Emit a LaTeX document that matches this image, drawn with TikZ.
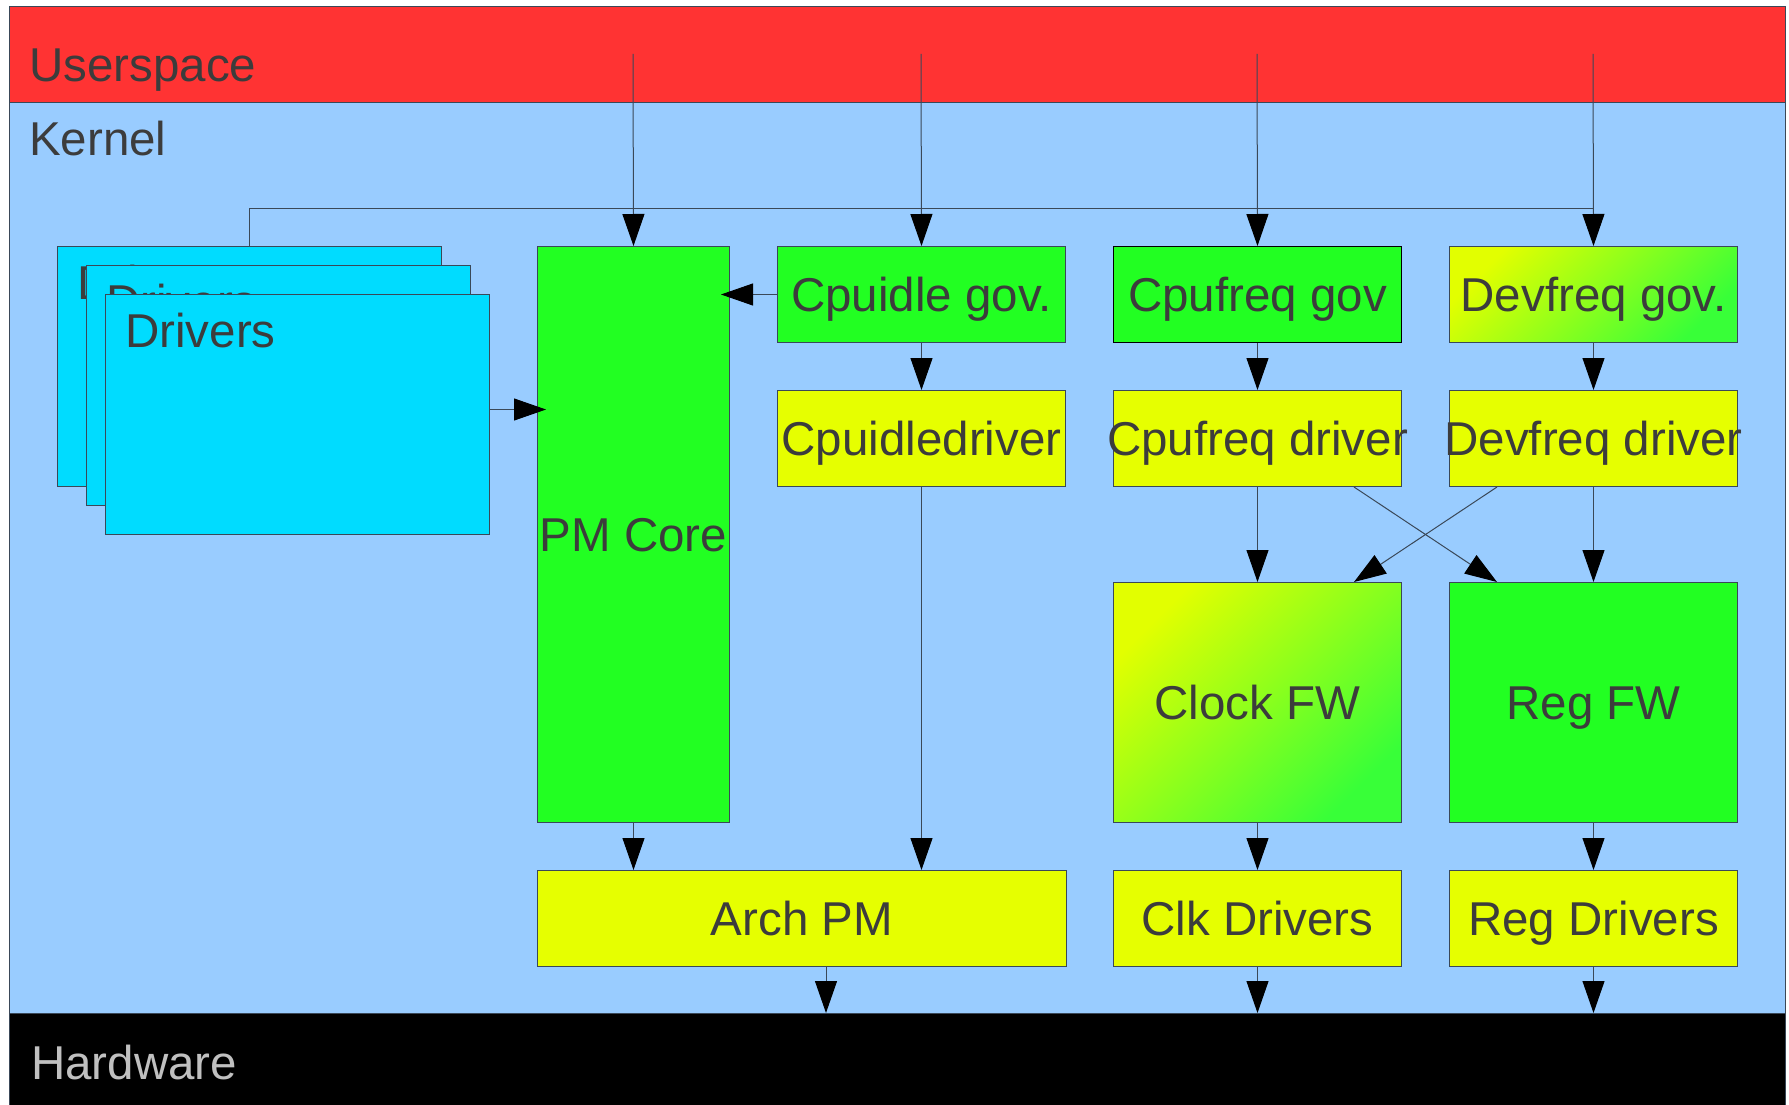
\documentclass[tikz,border=0pt]{standalone}
\usepackage{fontspec}
\setmainfont{Liberation Sans}
\usetikzlibrary{arrows.meta}

\definecolor{usred}{HTML}{FF3333}
\definecolor{kernblue}{HTML}{99CCFF}
\definecolor{drvcyan}{HTML}{00DCFF}
\definecolor{boxgreen}{HTML}{22FF22}
\definecolor{boxyellow}{HTML}{E6FF00}
\definecolor{gradY}{HTML}{E2FF00}
\definecolor{gradG}{HTML}{38FF38}
\definecolor{edgegray}{HTML}{3A4858}
\definecolor{txt}{HTML}{3C3C3C}
\definecolor{hwgray}{HTML}{C0C0C0}

\newcommand{\boxfont}{\fontsize{47.5pt}{57pt}\selectfont}
\newcommand{\overtext}[1]{\makebox[0pt]{#1}}

\begin{document}
\begin{tikzpicture}[x=1pt, y=-1pt,
  layer/.style = {draw=edgegray, line width=1.2pt, anchor=north west, minimum width=1776pt, inner sep=0pt},
  blk/.style = {draw=edgegray, line width=1pt, anchor=north west, minimum width=288pt, minimum height=96pt,
                inner sep=0pt, text=txt, font=\boxfont, text height=34pt, text depth=0pt},
  drv/.style = {draw=edgegray, line width=1pt, fill=drvcyan, anchor=north west, minimum width=384pt, minimum height=240pt, inner sep=0pt,
                label={[anchor=north west, inner sep=0pt, text=txt, font=\boxfont, xshift=20pt, yshift=-19pt]north west:Drivers}},
  grad/.style = {top color=gradY, bottom color=gradG, shading angle=45},
  line/.style = {draw=edgegray, line width=1pt},
  arr/.style = {line, -{Triangle[length=32pt, width=22pt, color=black]}},
  band/.style = {anchor=base west, inner sep=0pt, font=\boxfont, text=txt},
]
\useasboundingbox (0,0) rectangle (1789,1105);

% layers
\node[layer, fill=usred, minimum height=96pt] (us) at (8.7,5.7) {};
\node[layer, fill=kernblue, minimum height=911.3pt] (kern) at (8.7,101.7) {};
\node[layer, fill=black, minimum height=92pt] (hw) at (8.7,1013) {};
\node[band] (uslbl) at (29,82) {Userspace};
\node[band] (kernlbl) at (29,156) {Kernel};
\node[band, text=hwgray] (hwlbl) at (31,1079) {Hardware};

% drivers stack
\node[drv] (drvA) at (57,246) {};
\node[drv] (drvB) at (86,265) {};
\node[drv] (drvC) at (105,294) {};

% blocks
\node[blk, fill=boxgreen, minimum width=192pt, minimum height=576pt] (pm) at (537,246) {PM Core};
\node[blk, fill=boxgreen] (cpuidlegov) at (777,246) {Cpuidle gov.};
\node[blk, fill=boxgreen, draw=black] (cpufreqgov) at (1113,246) {Cpufreq gov};
\node[blk, grad] (devfreqgov) at (1449,246) {Devfreq gov.};
\node[blk, fill=boxyellow] (cpuidledrv) at (777,390) {Cpuidledriver};
\node[blk, fill=boxyellow] (cpufreqdrv) at (1113,390) {\overtext{Cpufreq driver}};
\node[blk, fill=boxyellow] (devfreqdrv) at (1449,390) {\overtext{Devfreq driver}};
\node[blk, grad, minimum height=240pt] (clockfw) at (1113,582) {Clock FW};
\node[blk, fill=boxgreen, minimum height=240pt] (regfw) at (1449,582) {Reg FW};
\node[blk, fill=boxyellow, minimum width=529pt] (archpm) at (537,870) {Arch PM};
\node[blk, fill=boxyellow] (clkdrv) at (1113,870) {Clk Drivers};
\node[blk, fill=boxyellow] (regdrv) at (1449,870) {Reg Drivers};

% from userspace
\coordinate (usA) at (633,54);
\coordinate (usB) at (921,54);
\coordinate (usC) at (1257,54);
\coordinate (usD) at (1593,54);
\coordinate (busE) at (1593,208);
\draw[line] (drvA.north) |- (busE);
\draw[arr] (usA) -- (pm.north);
\draw[arr] (usB) -- (cpuidlegov.north);
\draw[arr] (usC) -- (cpufreqgov.north);
\draw[arr] (usD) -- (devfreqgov.north);

% into pm core
\coordinate (drvOut) at ([yshift=5pt]drvC.east);
\draw[arr, shorten >=-9pt] (drvOut) -- (drvOut -| pm.west);
\draw[arr, shorten >=-9pt] (cpuidlegov.west) -- (cpuidlegov.west -| pm.east);

\draw[arr] (cpuidlegov) -- (cpuidledrv);
\draw[arr] (cpufreqgov) -- (cpufreqdrv);
\draw[arr] (devfreqgov) -- (devfreqdrv);

\draw[arr] (pm.south) -- (pm.south |- archpm.north);
\draw[arr] (cpuidledrv.south) -- (cpuidledrv.south |- archpm.north);
\draw[arr] (cpufreqdrv) -- (clockfw);
\draw[arr] (devfreqdrv) -- (regfw);
\draw[arr] ([xshift=-48pt]cpufreqdrv.south east) -- ([xshift=48pt]regfw.north west);
\draw[arr] ([xshift=48pt]devfreqdrv.south west) -- ([xshift=-48pt]clockfw.north east);
\draw[arr] (clockfw) -- (clkdrv);
\draw[arr] (regfw) -- (regdrv);

% down to hardware
\coordinate (archOut) at ([xshift=24pt]archpm.south);
\draw[arr] (archOut) -- (archOut |- hw.north);
\draw[arr] (clkdrv.south) -- (clkdrv.south |- hw.north);
\draw[arr] (regdrv.south) -- (regdrv.south |- hw.north);
\end{tikzpicture}
\end{document}
